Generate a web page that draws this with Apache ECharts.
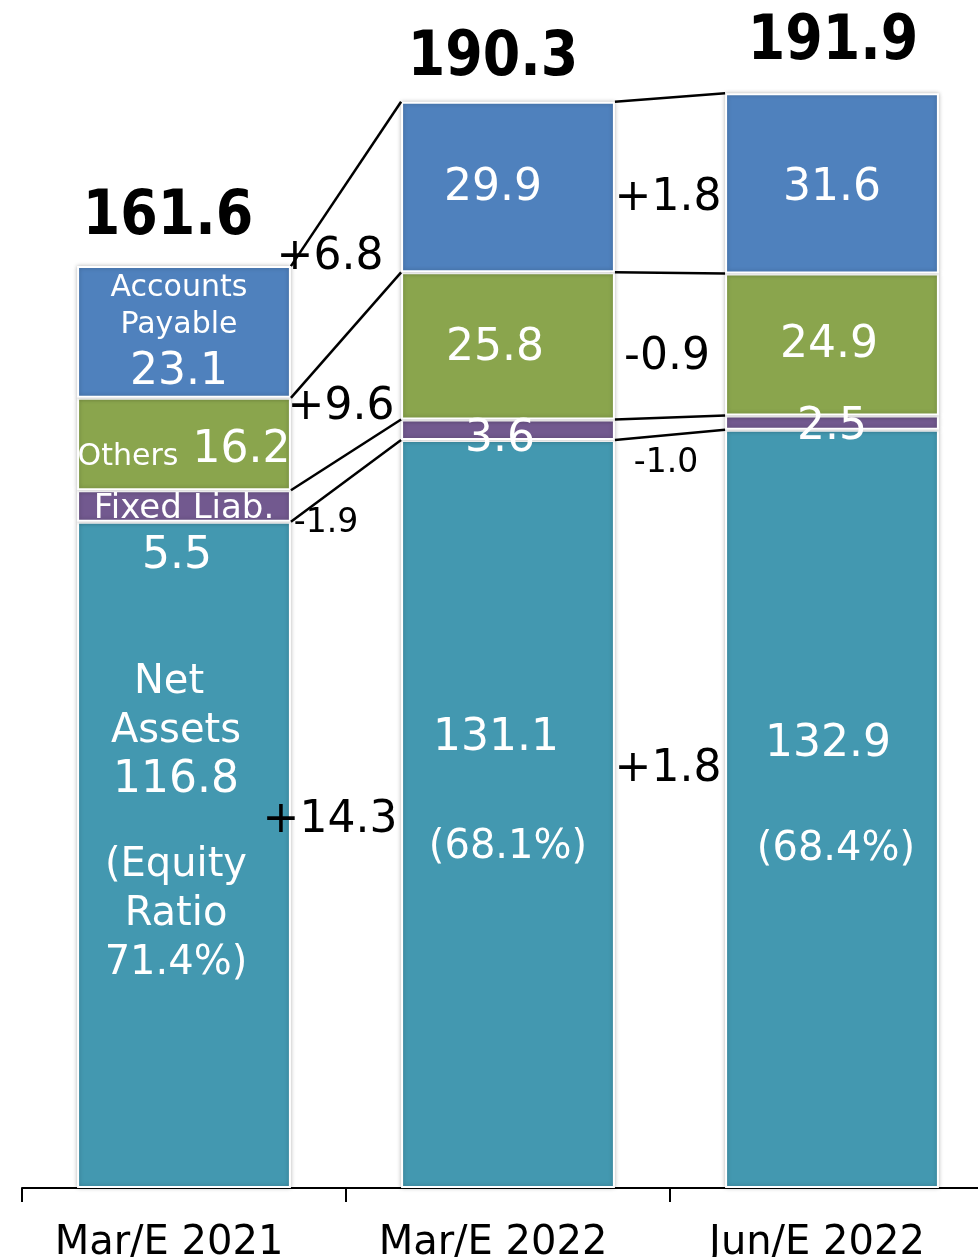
<!DOCTYPE html>
<html><head><meta charset="utf-8">
<script src="https://cdn.jsdelivr.net/npm/echarts@6/dist/echarts.min.js"></script>
<style>html,body{margin:0;padding:0;background:#fff}#c{width:978px;height:1257px}</style>
</head><body><div id="c"></div><script>
// ---- data ----
const categories = ['Mar/E 2021', 'Mar/E 2022', 'Jun/E 2022'];
const netAssets = [116.8, 131.1, 132.9];
const fixedLiab = [5.5, 3.6, 2.5];
const others = [16.2, 25.8, 24.9];
const accountsPayable = [23.1, 29.9, 31.6];
const totals = [161.6, 190.3, 191.9];
const equityRatios = ['71.4%', '68.1%', '68.4%'];
const changeNet = ['+14.3', '+1.8'];
const changeFixed = ['-1.9', '-1.0'];
const changeOthers = ['+9.6', '-0.9'];
const changeAP = ['+6.8', '+1.8'];

// ---- styling ----
const FONT = "'DejaVu Sans', Verdana, sans-serif";
const WHITE = '#ffffff';
const COLORS = { net: '#4398B0', fixed: '#72598F', others: '#8AA54D', ap: '#4F81BD' };
const BAR_RATIO = 0.66;
const DY = 4; // shift from em-box middle to cap middle
const totalOffsets = [[-16, -52], [-15, -47], [1, -54]];
const changeOffsets = [ // per stack level (net, fixed, others, ap), per boundary
  [[-16, -18], [-2, -46]],
  [[-20, 52], [-4, 33]],
  [[-5, 9], [-3, 8]],
  [[-16, -6], [-2, 9]]
];
const changeFontSizes = [44, 33, 44, 44];

const stackSeries = [netAssets, fixedLiab, others, accountsPayable];
const changes = [changeNet, changeFixed, changeOthers, changeAP];
const cumTops = stackSeries.map((_, s) => categories.map((__, i) =>
  stackSeries.slice(0, s + 1).reduce((a, arr) => a + arr[i], 0)));
const cumMids = stackSeries.map((arr, s) => categories.map((__, i) => cumTops[s][i] - arr[i] / 2));

const itemStyleBase = { borderColor: '#ffffff', borderWidth: 2, shadowBlur: 4, shadowColor: 'rgba(0,0,0,0.25)' };

function t(v) { return v.toFixed(1); }
function off(dx, dy) { return [dx, dy + DY]; }

const netLabels = netAssets.map((v, i) => i === 0
  ? { formatter: `{tl|Net}\n{t|Assets}\n{n|${t(v)}}\n{sp| }\n{t|(Equity}\n{t|Ratio}\n{t|${equityRatios[i]})}`, offset: off(-8, -36) }
  : { formatter: `{n|${t(v)}}\n{sp${i}| }\n{p${i}|(${equityRatios[i]})}`, offset: i === 1 ? off(-12, -25) : off(-4, -16) });
const fixedLabels = fixedLiab.map((v, i) => i === 0
  ? { formatter: `{f|Fixed Liab.}\n{nl|${t(v)}}`, offset: off(0, 23) }
  : { formatter: `{n|${t(v)}}`, offset: i === 1 ? off(-8, 6) : off(0, 1) });
const othersLabels = others.map((v, i) => i === 0
  ? { formatter: `{o|Others}{nb| ${t(v)}}`, offset: off(0, 2) }
  : { formatter: `{n|${t(v)}}`, offset: i === 1 ? off(-13, -1) : off(-3, -3) });
const apLabels = accountsPayable.map((v, i) => i === 0
  ? { formatter: `{s|Accounts}\n{s|Payable}\n{na|${t(v)}}`, offset: off(-5, 0) }
  : { formatter: `{n|${t(v)}}`, offset: i === 1 ? off(-15, -2) : off(0, 1) });

const rich = {
  s: { fontSize: 30, lineHeight: 37, color: WHITE, fontFamily: FONT },
  na: { fontSize: 44, lineHeight: 59, color: WHITE, fontFamily: FONT },
  n: { fontSize: 44, lineHeight: 50, color: WHITE, fontFamily: FONT },
  nl: { fontSize: 44, lineHeight: 48, color: WHITE, fontFamily: FONT, padding: [0, 14, 0, 0] },
  nb: { fontSize: 44, lineHeight: 44, color: WHITE, fontFamily: FONT, verticalAlign: 'bottom' },
  o: { fontSize: 30, lineHeight: 30, color: WHITE, fontFamily: FONT, verticalAlign: 'bottom' },
  f: { fontSize: 34, lineHeight: 48, color: WHITE, fontFamily: FONT },
  t: { fontSize: 40, lineHeight: 49, color: WHITE, fontFamily: FONT },
  tl: { fontSize: 40, lineHeight: 49, color: WHITE, fontFamily: FONT, padding: [0, 14, 0, 0] },
  sp: { fontSize: 10, lineHeight: 35, color: WHITE },
  sp1: { fontSize: 10, lineHeight: 59, color: WHITE },
  sp2: { fontSize: 10, lineHeight: 55, color: WHITE },
  p1: { fontSize: 40, lineHeight: 50, color: WHITE, fontFamily: FONT, padding: [0, 0, 0, 24] },
  p2: { fontSize: 40, lineHeight: 50, color: WHITE, fontFamily: FONT, padding: [0, 0, 0, 16] }
};

function barSeries(name, values, color, labels) {
  return {
    name, type: 'bar', stack: 'total', barWidth: (BAR_RATIO * 100) + '%',
    itemStyle: Object.assign({ color }, itemStyleBase),
    label: { show: true, position: 'inside', color: WHITE, fontFamily: FONT, rich },
    emphasis: { disabled: true },
    data: values.map((v, i) => ({ value: v, label: labels[i] })),
    z: 2
  };
}

const connectorData = [];
const changeData = [];
for (let s = 0; s < stackSeries.length; s++) {
  for (let b = 0; b < categories.length - 1; b++) {
    connectorData.push([b, cumTops[s][b], cumTops[s][b + 1]]);
    changeData.push([b, cumMids[s][b], cumMids[s][b + 1], s]);
  }
}

const option = {
  animation: false,
  backgroundColor: '#ffffff',
  grid: { left: 22, top: 47, width: 972, height: 1141, outerBoundsMode: 'none', containLabel: false },
  xAxis: {
    type: 'category', data: categories,
    axisLine: { lineStyle: { color: '#000', width: 2 } },
    axisTick: { show: true, length: 14, lineStyle: { color: '#000', width: 2 } },
    axisLabel: { interval: 0, fontSize: 40, color: '#000', fontFamily: FONT, margin: 36, padding: [0, 30, 0, 0] },
    splitLine: { show: false }
  },
  yAxis: { type: 'value', min: 0, max: 200, show: false, splitLine: { show: false } },
  series: [
    barSeries('Net Assets', netAssets, COLORS.net, netLabels),
    barSeries('Fixed Liab.', fixedLiab, COLORS.fixed, fixedLabels),
    barSeries('Others', others, COLORS.others, othersLabels),
    barSeries('Accounts Payable', accountsPayable, COLORS.ap, apLabels),
    {
      type: 'custom', name: 'connectors', z: 4, silent: true,
      data: connectorData,
      renderItem(params, api) {
        const b = api.value(0);
        const p1 = api.coord([b, api.value(1)]);
        const p2 = api.coord([b + 1, api.value(2)]);
        const half = api.size([1, 0])[0] * BAR_RATIO / 2;
        return {
          type: 'line',
          shape: { x1: p1[0] + half, y1: p1[1], x2: p2[0] - half, y2: p2[1] },
          style: { stroke: '#000', lineWidth: 2.5 }
        };
      }
    },
    {
      type: 'custom', name: 'changes', z: 5, silent: true,
      data: changeData,
      renderItem(params, api) {
        const b = api.value(0);
        const s = api.value(3);
        const p1 = api.coord([b, api.value(1)]);
        const p2 = api.coord([b + 1, api.value(2)]);
        const o = changeOffsets[s][b];
        return {
          type: 'text',
          x: (p1[0] + p2[0]) / 2 + o[0],
          y: (p1[1] + p2[1]) / 2 + o[1] + DY,
          style: {
            text: changes[s][b], fill: '#000', fontSize: changeFontSizes[s],
            fontFamily: FONT, align: 'center', verticalAlign: 'middle'
          }
        };
      }
    },
    {
      type: 'custom', name: 'totals', z: 5, silent: true,
      data: totals.map((v, i) => [i, v]),
      renderItem(params, api) {
        const i = params.dataIndex;
        const p = api.coord([api.value(0), api.value(1)]);
        const o = totalOffsets[i];
        return {
          type: 'text', x: p[0] + o[0], y: p[1] + o[1] + DY, scaleX: 0.87,
          style: {
            text: t(totals[i]), fill: '#000', fontSize: 62, fontWeight: 'bold',
            fontFamily: FONT, align: 'center', verticalAlign: 'middle'
          }
        };
      }
    }
  ]
};
const chart = echarts.init(document.getElementById('c'));
chart.setOption(option);
</script></body></html>
